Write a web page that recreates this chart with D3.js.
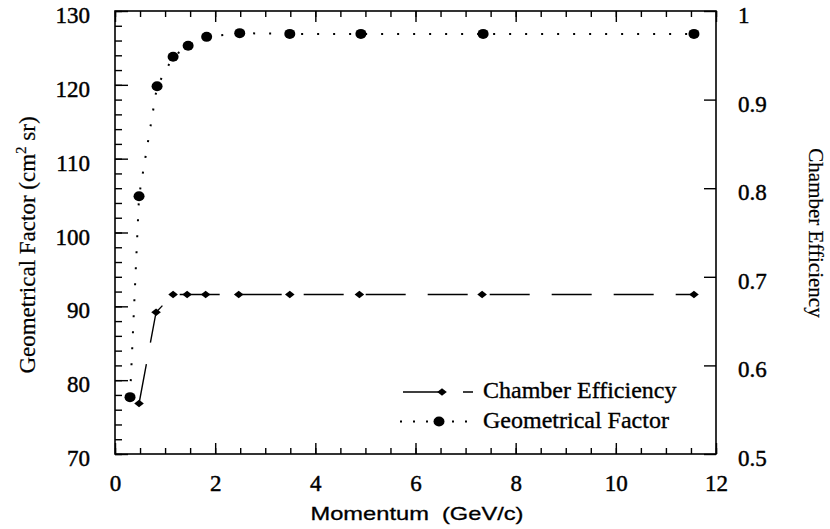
<!DOCTYPE html>
<html>
<head>
<meta charset="utf-8">
<script src="https://cdn.jsdelivr.net/npm/d3@7"></script>
</head>
<body style="margin:0;background:#fff">
<div id="chart"></div>
<script>
const momentumGeo = [0.30, 0.48, 0.84, 1.16, 1.46, 1.83, 2.49, 3.49, 4.91, 7.35, 11.56];
const geoFactor   = [77.7, 104.9, 119.8, 123.8, 125.3, 126.5, 127.0, 126.9, 126.9, 126.9, 126.9];
const momentumEff = [0.48, 0.82, 1.16, 1.44, 1.81, 2.47, 3.49, 4.88, 7.33, 11.56];
const chamberEff  = [0.557, 0.660, 0.680, 0.680, 0.680, 0.680, 0.680, 0.680, 0.680, 0.680];

const xMajor = [0, 2, 4, 6, 8, 10, 12];
const xMinor = d3.range(0, 12.01, 0.5);
const yMajor = [70, 80, 90, 100, 110, 120, 130];
const yMinor = d3.range(70, 130.01, 2);
const rMajor = [0.5, 0.6, 0.7, 0.8, 0.9, 1];

const legendLabels = ["Chamber Efficiency", "Geometrical Factor"];

const SERIF = "'Liberation Serif', 'Times New Roman', serif";
const SANS = "'Liberation Sans', Arial, sans-serif";

const W = 830, H = 529;
const svg = d3.select("#chart").append("svg").attr("width", W).attr("height", H);

const x  = d3.scaleLinear().domain([0, 12]).range([115, 716]);
const yL = d3.scaleLinear().domain([70, 130]).range([454, 11]);
const yR = d3.scaleLinear().domain([0.5, 1]).range([454, 11]);

function heavy(sel, w) {
  return sel.attr("fill", "#000").attr("stroke", "#000").attr("stroke-width", w || 0.35);
}

function addAxis(axis, transform, size, ticks, fmt, pad) {
  const g = svg.append("g")
    .attr("transform", transform)
    .call(axis.tickValues(ticks).tickSize(size).tickPadding(pad || 0)
      .tickFormat(fmt || (() => "")));
  g.select(".domain").remove();
  g.selectAll("line").attr("stroke", "#000").attr("stroke-width", 1.4);
  heavy(g.selectAll("text").style("font-family", SERIF).attr("font-size", 23), 0.45);
  return g;
}

// bottom
addAxis(d3.axisBottom(x), "translate(0,454)", -6, xMinor);
addAxis(d3.axisBottom(x), "translate(0,454)", -11, xMajor, d3.format("d"), 21);
// top
addAxis(d3.axisTop(x), "translate(0,11)", -6, xMinor);
addAxis(d3.axisTop(x), "translate(0,11)", -11, xMajor);
// left
addAxis(d3.axisLeft(yL), "translate(115,0)", -7, yMinor);
addAxis(d3.axisLeft(yL), "translate(115,0)", -13, yMajor, d3.format("d"), 25)
  .selectAll("text").attr("dy", "0.5em");
// right
addAxis(d3.axisRight(yR), "translate(716,0)", -12, rMajor, d3.format(""), 22)
  .selectAll("text").attr("dy", "0.5em");

svg.append("rect")
  .attr("x", 115).attr("y", 11)
  .attr("width", 716 - 115).attr("height", 454 - 11)
  .attr("fill", "none").attr("stroke", "#000").attr("stroke-width", 1.6);

const geo = momentumGeo.map((m, i) => [m, geoFactor[i]]);
const eff = momentumEff.map((m, i) => [m, chamberEff[i]]);

svg.append("path")
  .attr("d", d3.line().x(d => x(d[0])).y(d => yL(d[1]))(geo))
  .attr("fill", "none").attr("stroke", "#000")
  .attr("stroke-width", 2).attr("stroke-dasharray", "2,14");

svg.append("path")
  .attr("d", d3.line().x(d => x(d[0])).y(d => yR(d[1]))(eff))
  .attr("fill", "none").attr("stroke", "#000")
  .attr("stroke-width", 1.4).attr("stroke-dasharray", "40,22");

const diamond = "M0,-3.8L4.8,0L0,3.8L-4.8,0Z";

svg.selectAll("ellipse.geo").data(geo).enter()
  .append("ellipse").attr("class", "geo")
  .attr("cx", d => x(d[0])).attr("cy", d => yL(d[1]))
  .attr("rx", 5.5).attr("ry", 5).attr("fill", "#000");

svg.selectAll("path.eff").data(eff).enter()
  .append("path").attr("class", "eff")
  .attr("transform", d => "translate(" + x(d[0]) + "," + yR(d[1]) + ")")
  .attr("d", diamond).attr("fill", "#000");

// legend
const leg = svg.append("g");
leg.append("line").attr("x1", 403).attr("x2", 473).attr("y1", 392).attr("y2", 392)
  .attr("stroke", "#000").attr("stroke-width", 1.4).attr("stroke-dasharray", "40,20");
leg.append("path").attr("transform", "translate(442,392)").attr("d", diamond).attr("fill", "#000");
leg.append("line").attr("x1", 400).attr("x2", 470).attr("y1", 421.5).attr("y2", 421.5)
  .attr("stroke", "#000").attr("stroke-width", 2).attr("stroke-dasharray", "2,11");
leg.append("ellipse").attr("cx", 439).attr("cy", 421.5).attr("rx", 5.5).attr("ry", 5).attr("fill", "#000");
heavy(leg.selectAll("text").data(legendLabels).enter()
  .append("text")
  .attr("x", 483).attr("y", (d, i) => 398 + i * 30)
  .style("font-family", SERIF)
  .attr("font-size", 24)
  .text(d => d));

// axis titles
heavy(svg.append("text")
  .attr("x", 417).attr("y", 520)
  .attr("text-anchor", "middle")
  .style("font-family", SANS)
  .style("white-space", "pre")
  .attr("font-size", 19)
  .attr("textLength", 213).attr("lengthAdjust", "spacingAndGlyphs")
  .text("Momentum  (GeV/c)"), 0.3);

const yt = svg.append("text")
  .attr("transform", "translate(35,245) rotate(-90)")
  .attr("text-anchor", "middle")
  .style("font-family", SERIF)
  .attr("font-size", 23);
yt.append("tspan").text("Geometrical Factor (cm");
yt.append("tspan").attr("font-size", 15).attr("dy", -9).text("2");
yt.append("tspan").attr("dy", 9).text(" sr)");
heavy(yt, 0.2);

heavy(svg.append("text")
  .attr("transform", "translate(809,233) rotate(90)")
  .attr("text-anchor", "middle")
  .style("font-family", SERIF)
  .attr("font-size", 21)
  .text("Chamber Efficiency"), 0.2);
</script>
</body>
</html>
